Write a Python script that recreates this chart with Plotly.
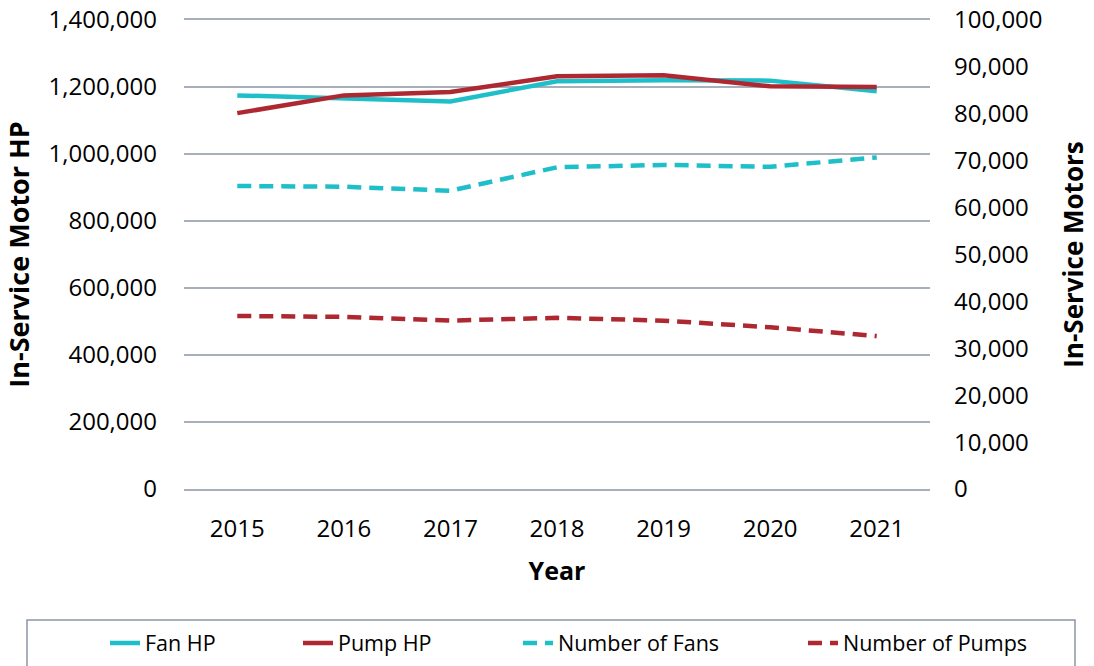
import plotly.graph_objects as go

years = ["2015", "2016", "2017", "2018", "2019", "2020", "2021"]
fan_hp = [1175000, 1167000, 1157000, 1217000, 1220000, 1219000, 1187000]
pump_hp = [1122000, 1175000, 1185000, 1232000, 1235000, 1202000, 1200000]
num_fans = [64600, 64450, 63600, 68600, 69100, 68700, 70700]
num_pumps = [36900, 36700, 35900, 36500, 35900, 34500, 32600]

left_ticks = [0, 200000, 400000, 600000, 800000, 1000000, 1200000, 1400000]
right_ticks = [0, 10000, 20000, 30000, 40000, 50000, 60000, 70000, 80000, 90000, 100000]

CYAN = "#1fbfca"
RED = "#ad2830"
GRID = "#a7afbb"
FONT = "Open Sans"

W, H = 1094, 666
L, R, T, B = 184, 164, 20, 177
PW, PH = W - L - R, H - T - B

fig = go.Figure()
fig.add_trace(go.Scatter(x=years, y=fan_hp, name="Fan HP", mode="lines", legend="legend",
                         line=dict(color=CYAN, width=4.5)))
fig.add_trace(go.Scatter(x=years, y=pump_hp, name="Pump HP", mode="lines", legend="legend2",
                         line=dict(color=RED, width=4.5)))
fig.add_trace(go.Scatter(x=years, y=num_fans, name="Number of Fans", mode="lines", legend="legend3",
                         yaxis="y2", line=dict(color=CYAN, width=4.5, dash="14px,8px")))
fig.add_trace(go.Scatter(x=years, y=num_pumps, name="Number of Pumps", mode="lines", legend="legend4",
                         yaxis="y2", line=dict(color=RED, width=4.5, dash="14px,8px")))

def leg(px):
    return dict(orientation="h", xref="container", yref="container",
                x=px / W, xanchor="left", y=1 - 643 / H, yanchor="middle",
                bgcolor="rgba(0,0,0,0)", borderwidth=0,
                font=dict(size=21.5, family=FONT, color="#000000"))

def px2x(px):
    return (px - L) / PW

def py2y(py):
    return (T + PH - py) / PH

# legend frame (layout decoration)
fig.add_shape(type="rect", xref="paper", yref="paper",
              x0=px2x(27), x1=px2x(1075), y0=py2y(672), y1=py2y(620),
              line=dict(color="#8a96a3", width=1.5), fillcolor="rgba(0,0,0,0)",
              layer="above")

fig.update_layout(
    width=W, height=H,
    margin=dict(l=L, r=R, t=T, b=B, autoexpand=False),
    paper_bgcolor="white", plot_bgcolor="white",
    font=dict(family=FONT, size=24, color="#000000"),
    showlegend=True,
    legend=leg(105), legend2=leg(298), legend3=leg(518), legend4=leg(803),
    xaxis=dict(title=dict(text="<b>Year</b>", font=dict(size=25), standoff=20),
               range=[-0.5, 6.5],
               showgrid=False, showline=True, mirror=True, linecolor=GRID, linewidth=1.5,
               ticks="", tickfont=dict(size=24), ticklabelstandoff=17),
    yaxis=dict(title=dict(text="<b>In-Service Motor HP</b>", font=dict(size=27), standoff=11),
               range=[0, 1400000], tickvals=left_ticks,
               ticktext=[f"{v:,}" for v in left_ticks],
               showgrid=True, gridcolor=GRID, gridwidth=1.5,
               zeroline=True, zerolinecolor=GRID, zerolinewidth=1.5,
               showline=False, ticks="", ticklabelstandoff=26),
    yaxis2=dict(title=dict(text="<b>In-Service Motors</b>", font=dict(size=26), standoff=23),
                overlaying="y", side="right",
                range=[0, 100000], tickvals=right_ticks,
                ticktext=[f"{v:,}" for v in right_ticks],
                showgrid=False, zeroline=False, showline=False, ticks="",
                ticklabelstandoff=23),
)

fig.write_html("out.html", config={"displayModeBar": False},
               post_script="document.body.style.margin='0px';document.body.style.overflow='hidden';")
